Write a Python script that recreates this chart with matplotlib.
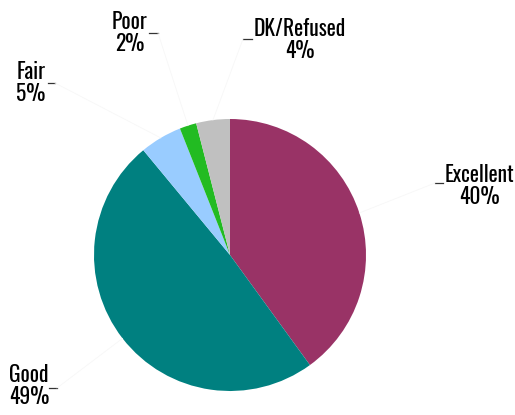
import matplotlib
matplotlib.use("Agg")
import matplotlib.pyplot as plt
import numpy as np

categories = ["Excellent", "Good", "Fair", "Poor", "DK/Refused"]
shares = [40, 49, 5, 2, 4]
colors = ["#993366", "#008080", "#99CCFF", "#22BB22", "#C0C0C0"]

W, H = 515, 415
fig = plt.figure(figsize=(W / 100, H / 100), dpi=100)
fig.patch.set_facecolor("white")

# pie centred at (230, 255) px with radius 136 px
cx, cy, r = 230, 255, 136
ax = fig.add_axes([(cx - r) / W, (H - cy - r) / H, 2 * r / W, 2 * r / H])
wedges, _ = ax.pie(shares, colors=colors, startangle=90, counterclock=False,
                   radius=1.0, wedgeprops=dict(linewidth=0))
ax.set_xlim(-1, 1)
ax.set_ylim(-1, 1)
ax.set_aspect("auto")
ax.axis("off")

font = dict(family=["Oswald", "Antonio", "Barlow Condensed", "DejaVu Sans"],
            weight=600, size=15.5, color="black")

# label block centre (px), dash span (px), per category
label_layout = {
    "Excellent": ((479, 186), (435, 443, 183)),
    "Good": ((29, 386), (49, 57, 388)),
    "Fair": ((31, 83), (48, 55, 83)),
    "Poor": ((130, 33), (149, 158, 33)),
    "DK/Refused": ((300, 40), (243, 252, 39)),
}

def fx(px):
    return px / W

def fy(py):
    return 1 - py / H

for w, name, val in zip(wedges, categories, shares):
    (tx, ty), (d0, d1, dy) = label_layout[name]
    fig.text(fx(tx), fy(ty), f"{name}\n{val}%", ha="center", va="center",
             multialignment="center", linespacing=1.0, **font)
    fig.add_artist(plt.Line2D([fx(d0), fx(d1)], [fy(dy), fy(dy)],
                              color="#333333", lw=0.9))
    # faint leader from wedge edge to the dash
    mid = np.deg2rad((w.theta1 + w.theta2) / 2)
    ex, ey = cx + r * np.cos(mid), cy - r * np.sin(mid)
    near = d0 if abs(d0 - ex) < abs(d1 - ex) else d1
    fig.add_artist(plt.Line2D([fx(ex), fx(near)], [fy(ey), fy(dy)],
                              color="#F7F7F7", lw=0.6))

fig.savefig("out.png", dpi=100, facecolor="white")
